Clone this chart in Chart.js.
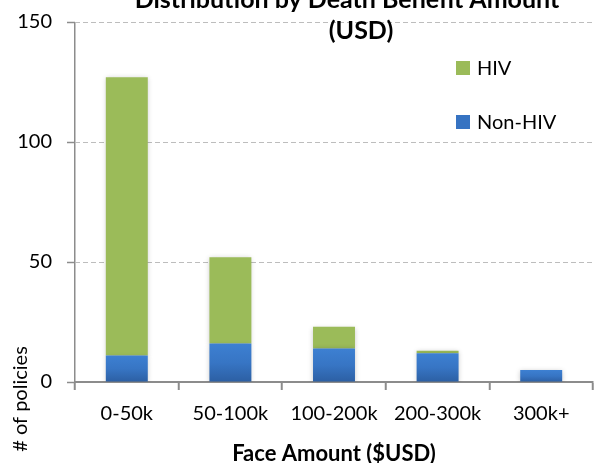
<!DOCTYPE html>
<html><head><meta charset="utf-8">
<script src="https://cdn.jsdelivr.net/npm/chart.js@4"></script>
<style>html,body{margin:0;padding:0;background:#fff}#wrap{width:601px;height:463px;position:relative}</style>
</head><body><div id="wrap"><canvas id="c" width="601" height="463"></canvas></div>
<script>
const categories = ['0-50k', '50-100k', '100-200k', '200-300k', '300k+'];
const nonHivValues = [11, 16, 14, 12, 5];
const hivValues = [116, 36, 9, 1, 0];
const yTickValues = [0, 50, 100, 150];
const seriesNames = ['Non-HIV', 'HIV'];
const titleLines = ['Distribution by Death Benefit Amount', '(USD)'];
const xAxisTitle = 'Face Amount ($USD)';
const yAxisTitle = '# of policies';

const FONT = 'Lato, "Open Sans", sans-serif';
const GREEN = '#9bbb59';
const BLUE = '#3a7bcc';
const AXIS = '#8c8c8c';

function blueGradient(ctx) {
  const chart = ctx.chart;
  if (ctx.type !== 'data' || !chart.chartArea || !chart.scales.y) return BLUE;
  const y = chart.scales.y;
  const y0 = y.getPixelForValue(0);
  const y1 = y.getPixelForValue(ctx.raw);
  if (!(y0 - y1 > 1)) return BLUE;
  const g = chart.ctx.createLinearGradient(0, y1, 0, y0);
  g.addColorStop(0, '#3d80d2');
  g.addColorStop(0.5, '#3775c4');
  g.addColorStop(1, '#2c5fa3');
  return g;
}

const overlay = {
  id: 'overlay',
  beforeDatasetsDraw(chart) {
    const c = chart.ctx;
    c.save();
    c.shadowColor = 'rgba(0,0,0,0.22)';
    c.shadowBlur = 5;
    c.shadowOffsetX = 0;
    c.shadowOffsetY = 1;
  },
  afterDatasetsDraw(chart) {
    chart.ctx.restore();
  },
  afterDraw(chart) {
    const c = chart.ctx;
    c.save();
    c.fillStyle = '#000';
    // title
    c.font = 'bold 25px ' + FONT;
    c.textAlign = 'center';
    c.textBaseline = 'alphabetic';
    c.fillText(titleLines[0], 347, 8);
    c.fillText(titleLines[1], 361, 39);
    // legend (HIV first, then Non-HIV)
    const ds = chart.data.datasets;
    const order = [1, 0];
    c.font = '20px ' + FONT;
    c.textAlign = 'left';
    c.textBaseline = 'middle';
    order.forEach((di, k) => {
      const top = 61 + k * 54;
      c.fillStyle = di === 0 ? '#3673c2' : GREEN;
      c.fillRect(456, top, 14, 14);
      c.fillStyle = '#000';
      c.fillText(ds[di].label, 477, top + 8);
    });
    // y axis title
    c.translate(21, 399);
    c.rotate(-Math.PI / 2);
    c.textAlign = 'center';
    c.textBaseline = 'middle';
    c.font = '20px ' + FONT;
    c.fillText(yAxisTitle, 0, 0);
    c.restore();
  }
};

new Chart(document.getElementById('c'), {
  type: 'bar',
  data: {
    labels: categories,
    datasets: [
      { label: seriesNames[0], data: nonHivValues, backgroundColor: blueGradient, borderWidth: 0 },
      { label: seriesNames[1], data: hivValues, backgroundColor: GREEN, borderWidth: 0 }
    ]
  },
  options: {
    responsive: false,
    animation: false,
    devicePixelRatio: 1,
    layout: { padding: { left: 0, top: 22, right: 8, bottom: 0 } },
    categoryPercentage: 1,
    barPercentage: 0.405,
    plugins: { legend: { display: false }, title: { display: false }, tooltip: { enabled: false } },
    scales: {
      x: {
        stacked: true,
        afterFit(s) { s.height = 81; s.paddingLeft = 0; s.paddingRight = 0; },
        grid: {
          display: true, drawOnChartArea: true, drawTicks: true, offset: true,
          color: (ctx) => ctx.index === 0 ? AXIS : 'rgba(0,0,0,0)',
          lineWidth: 1.5,
          tickLength: 8, tickColor: AXIS, tickWidth: 2
        },
        border: { display: true, color: AXIS, width: 2 },
        ticks: { color: '#000', font: { family: FONT, size: 20 }, padding: 12, maxRotation: 0, autoSkip: false },
        title: { display: true, text: xAxisTitle, color: '#000', font: { family: FONT, size: 22, weight: 'bold' }, padding: { top: 0, bottom: -4 } }
      },
      y: {
        stacked: true,
        min: 0, max: 150,
        afterFit(s) { s.width = 75; s.paddingTop = 0; s.paddingBottom = 0; },
        afterBuildTicks(s) { s.ticks = yTickValues.map(v => ({ value: v })); },
        grid: {
          color: (ctx) => (ctx.tick && ctx.tick.value === 0) ? 'rgba(0,0,0,0)' : '#bdbdbd',
          lineWidth: 1, drawTicks: true, tickLength: 8, tickColor: AXIS, tickWidth: 1.5
        },
        border: { display: false, dash: [5, 3] },
        ticks: { color: '#000', font: { family: FONT, size: 20 }, padding: 15 }
      }
    }
  },
  plugins: [overlay]
});
</script>
</body></html>
